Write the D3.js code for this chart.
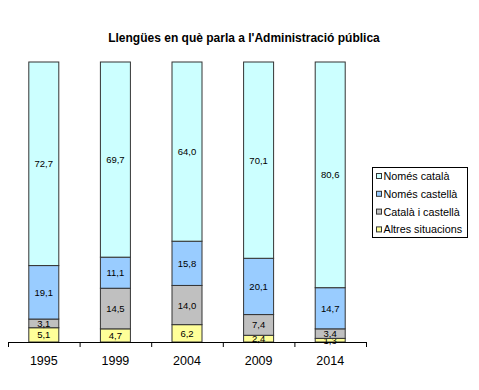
<!DOCTYPE html>
<html>
<head>
<meta charset="utf-8">
<script src="https://cdn.jsdelivr.net/npm/d3@7"></script>
<style>
  body { margin: 0; background: #fff; }
  svg text { font-family: "Liberation Sans", Arial, sans-serif; }
</style>
</head>
<body>
<div id="chart"></div>
<script>
// Dades
var anys = ["1995", "1999", "2004", "2009", "2014"];
var series = ["Altres situacions", "Català i castellà", "Només castellà", "Només català"];
var altres = [5.1, 4.7, 6.2, 2.4, 1.3];
var catCast = [3.1, 14.5, 14.0, 7.4, 3.4];
var nomesCast = [19.1, 11.1, 15.8, 20.1, 14.7];
var nomesCat = [72.7, 69.7, 64.0, 70.1, 80.6];
var colors = ["#ffff99", "#c0c0c0", "#99ccff", "#ccffff"];

var svgWidth = 479, svgHeight = 390;

var svg = d3.select("#chart")
    .append("svg")
    .attr("width", svgWidth)
    .attr("height", svgHeight);

// taula per a l'apilament
var table = anys.map(function (a, i) {
    return {
        any: a,
        "Altres situacions": altres[i],
        "Català i castellà": catCast[i],
        "Només castellà": nomesCast[i],
        "Només català": nomesCat[i]
    };
});
var stacked = d3.stack().keys(series)(table);

var x = d3.scaleBand().domain(anys).range([8, 366]).paddingInner(0).paddingOuter(0);
var y = d3.scaleLinear().domain([0, 100]).range([342, 62]);
var barW = 30;

// Títol
svg.append("text")
    .attr("x", 244)
    .attr("y", 42)
    .attr("text-anchor", "middle")
    .attr("font-size", "12px")
    .attr("font-weight", "bold")
    .text("Llengües en què parla a l'Administració pública");

// Barres
var layers = svg.selectAll("g.layer")
    .data(stacked)
    .enter().append("g")
    .attr("class", "layer")
    .attr("fill", function (d, i) { return colors[i]; });

layers.selectAll("rect")
    .data(function (d) { return d; })
    .enter().append("rect")
    .attr("x", function (d) { return x(d.data.any) + x.bandwidth() / 2 - barW / 2; })
    .attr("y", function (d) { return y(d[1]); })
    .attr("width", barW)
    .attr("height", function (d) { return y(d[0]) - y(d[1]); })
    .attr("stroke", "#333")
    .attr("stroke-width", 1);

// Etiquetes de valors
layers.selectAll("text")
    .data(function (d) { return d; })
    .enter().append("text")
    .attr("x", function (d) { return x(d.data.any) + x.bandwidth() / 2; })
    .attr("y", function (d) { return (y(d[0]) + y(d[1])) / 2 + 3.5; })
    .attr("text-anchor", "middle")
    .attr("font-size", "9.5px")
    .attr("fill", "#000")
    .text(function (d) { return d3.format(".1f")(d[1] - d[0]).replace(".", ","); });

// Eix X
var axis = svg.append("g");
axis.append("line")
    .attr("x1", x.range()[0]).attr("x2", x.range()[1])
    .attr("y1", 342.5).attr("y2", 342.5)
    .attr("stroke", "#000");
var bounds = anys.map(function (a) { return x(a); }).concat([x.range()[1]]);
axis.selectAll("line.tick")
    .data(bounds)
    .enter().append("line")
    .attr("class", "tick")
    .attr("x1", function (d) { return d + 0.5; })
    .attr("x2", function (d) { return d + 0.5; })
    .attr("y1", 342).attr("y2", 347)
    .attr("stroke", "#000");
axis.selectAll("text")
    .data(anys)
    .enter().append("text")
    .attr("x", function (d) { return x(d) + x.bandwidth() / 2; })
    .attr("y", 365)
    .attr("text-anchor", "middle")
    .attr("font-size", "12.5px")
    .text(function (d) { return d; });

// Llegenda
var legend = svg.append("g");
legend.append("rect")
    .attr("x", 372.5).attr("y", 167.5)
    .attr("width", 95).attr("height", 70)
    .attr("fill", "#fff")
    .attr("stroke", "#000");
var legItems = series.slice().reverse();
var legColors = colors.slice().reverse();
legItems.forEach(function (s, i) {
    var ly = 176 + i * 17.8;
    legend.append("rect")
        .attr("x", 376.5).attr("y", ly - 2.5)
        .attr("width", 5).attr("height", 5)
        .attr("fill", legColors[i])
        .attr("stroke", "#333");
    legend.append("text")
        .attr("x", 383.5).attr("y", ly + 4)
        .attr("font-size", "10.8px")
        .text(s);
});
</script>
</body>
</html>
